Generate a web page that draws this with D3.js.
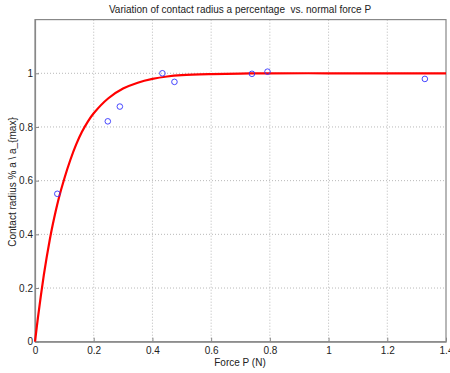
<!DOCTYPE html>
<html><head><meta charset="utf-8">
<script src="https://cdn.jsdelivr.net/npm/d3@7"></script>
<style>
body{margin:0;background:#fff;}
text{font-family:"Liberation Sans",Arial,sans-serif;white-space:pre;}
</style></head>
<body><svg id="c" width="450" height="373"></svg>
<script>
// Measured data points (circles)
const pointsP = [0.076, 0.248, 0.289, 0.434, 0.475, 0.739, 0.792, 1.328];
const pointsA = [0.551, 0.821, 0.876, 1.000, 0.968, 0.998, 1.006, 0.979];
// Fitted curve
const curveP = [0, 0.01, 0.02, 0.03, 0.04, 0.05, 0.06, 0.08, 0.10, 0.12, 0.14, 0.16, 0.18, 0.20, 0.25, 0.30, 0.35, 0.40, 0.45, 0.50, 0.60, 0.70, 0.80, 1.0, 1.2, 1.4];
const curveA = [0, 0.09, 0.172, 0.248, 0.316, 0.378, 0.434, 0.53, 0.608, 0.676, 0.734, 0.782, 0.820, 0.851, 0.907, 0.943, 0.965, 0.979, 0.988, 0.993, 0.997, 0.999, 1.0, 1.0, 1.0, 1.0];
const xTicks = [0, 0.2, 0.4, 0.6, 0.8, 1, 1.2, 1.4];
const yTicks = [0, 0.2, 0.4, 0.6, 0.8, 1];
const titleText = "Variation of contact radius a percentage  vs. normal force P";
const xLabel = "Force P (N)";
const yLabel = "Contact radius % a \\ a_{max}";

const svg = d3.select("#c");
const m = {l:35, r:4, t:19.6, b:31.3};
const W = 450, H = 373;
const x = d3.scaleLinear().domain([0,1.4]).range([m.l, W-m.r]);
const y = d3.scaleLinear().domain([0,1.2]).range([H-m.b, m.t]);

// grid
const g = svg.append("g");
g.selectAll(".gx").data(xTicks.filter(d=>d>0&&d<1.4)).enter().append("line")
  .attr("x1",d=>x(d)).attr("x2",d=>x(d)).attr("y1",y(0)).attr("y2",y(1.2))
  .attr("stroke","#b8b8b8").attr("stroke-width",1).attr("stroke-dasharray","1,2");
g.selectAll(".gy").data(yTicks.filter(d=>d>0)).enter().append("line")
  .attr("y1",d=>y(d)).attr("y2",d=>y(d)).attr("x1",x(0)).attr("x2",x(1.4))
  .attr("stroke","#b8b8b8").attr("stroke-width",1).attr("stroke-dasharray","1,2");

// box
svg.append("rect").attr("x",x(0)).attr("y",y(1.2)).attr("width",x(1.4)-x(0)).attr("height",y(0)-y(1.2))
  .attr("fill","none").attr("stroke","#888").attr("stroke-width",1.2);

// axes
const xAxis = d3.axisBottom(x).tickValues(xTicks).tickSizeInner(-4).tickSizeOuter(0).tickPadding(7)
  .tickFormat(d=>d3.format("")(d));
const gxA = svg.append("g").attr("transform",`translate(0,${y(0)})`).call(xAxis);
const yAxis = d3.axisLeft(y).tickValues(yTicks).tickSizeInner(-4).tickSizeOuter(0).tickPadding(7)
  .tickFormat(d=>d3.format("")(d));
const gyA = svg.append("g").attr("transform",`translate(${x(0)},0)`).call(yAxis);
[gxA,gyA].forEach(a=>{
  a.select(".domain").attr("stroke","#888").attr("stroke-width",1.2);
  a.selectAll(".tick line").attr("stroke","#888");
  a.selectAll(".tick text").attr("font-size",10).attr("fill","#222").attr("font-family","'Liberation Sans',Arial,sans-serif");
});
gyA.selectAll(".tick text").attr("x",-2);
gxA.selectAll(".tick text").attr("y",5);

// curve
const line = d3.line().x((d,i)=>x(curveP[i])).y((d,i)=>y(curveA[i])).curve(d3.curveCatmullRom);
svg.append("path").datum(curveP).attr("d",line).attr("fill","none").attr("stroke","#ff0000").attr("stroke-width",2.2);

// points
svg.selectAll(".pt").data(pointsP).enter().append("circle")
  .attr("cx",d=>x(d)).attr("cy",(d,i)=>y(pointsA[i])).attr("r",2.8)
  .attr("fill","none").attr("stroke","#3333ff").attr("stroke-width",0.9);

// labels
svg.append("text").attr("x",240).attr("y",13).attr("text-anchor","middle").attr("font-size",10).attr("fill","#222").text(titleText);
svg.append("text").attr("x",240).attr("y",366).attr("text-anchor","middle").attr("font-size",10).attr("fill","#222").text(xLabel);
svg.append("text").attr("transform","translate(16,182) rotate(-90)").attr("text-anchor","middle").attr("font-size",10).attr("fill","#222").text(yLabel);
</script></body></html>
